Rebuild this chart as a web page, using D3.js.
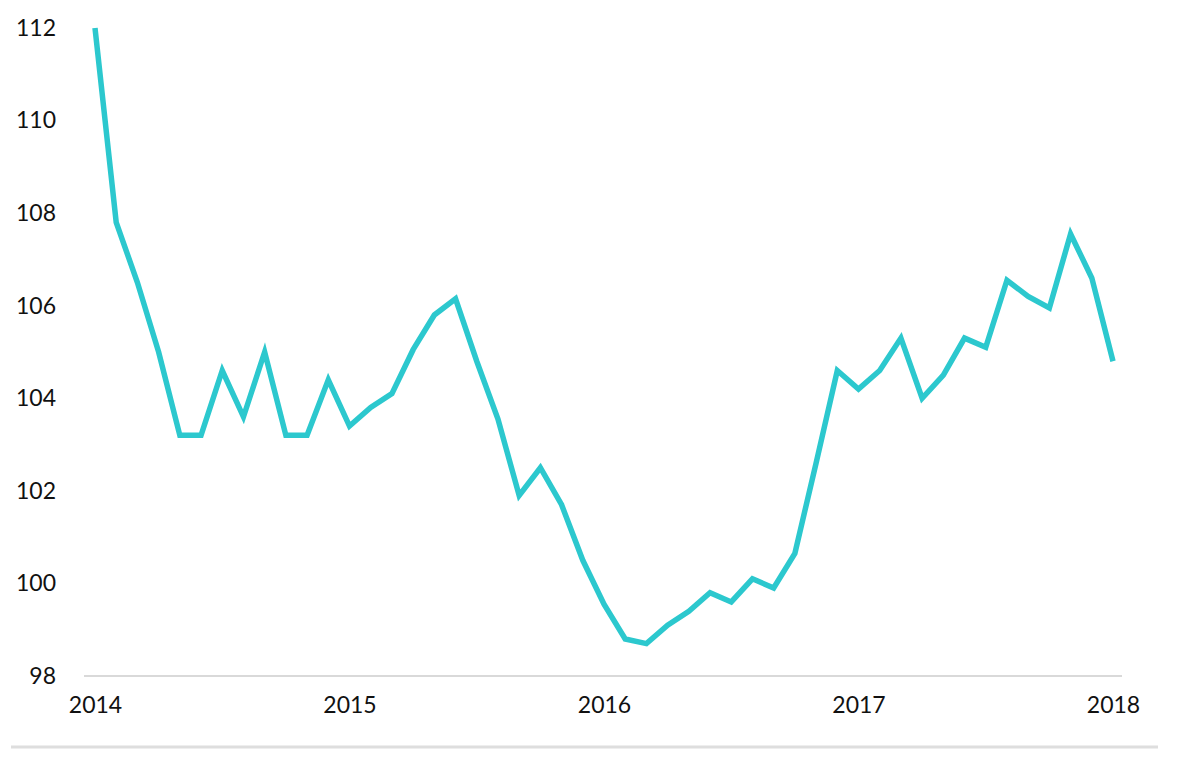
<!DOCTYPE html>
<html>
<head>
<meta charset="utf-8">
<script src="https://cdn.jsdelivr.net/npm/d3@7"></script>
<style>
  html, body { margin: 0; padding: 0; background: #ffffff; }
  svg { display: block; }
  text { font-family: Lato, "Open Sans", sans-serif; fill: #111111; }
</style>
</head>
<body>
<svg id="chart" width="1200" height="758"></svg>
<script>
// Monthly index values, Jan 2014 .. Jan 2018
const values = [
  112.0, 107.8, 106.5, 105.0, 103.2, 103.2, 104.6, 103.6, 105.0, 103.2, 103.2, 104.4,
  103.4, 103.8, 104.1, 105.05, 105.8, 106.15, 104.8, 103.55, 101.9, 102.5, 101.7, 100.5,
  99.55, 98.8, 98.7, 99.1, 99.4, 99.8, 99.6, 100.1, 99.9, 100.65, 102.6, 104.6,
  104.2, 104.6, 105.3, 104.0, 104.5, 105.3, 105.1, 106.55, 106.2, 105.95, 107.55, 106.6,
  104.8
];
const yearLabels = ["2014", "2015", "2016", "2017", "2018"];
const yTicks = [98, 100, 102, 104, 106, 108, 110, 112];

const svg = d3.select("#chart");

const x = d3.scaleLinear().domain([0, values.length - 1]).range([95, 1113]);
const y = d3.scaleLinear().domain([98, 112]).range([676, 28]);

// baseline axis line
svg.append("line")
  .attr("x1", 84).attr("x2", 1122)
  .attr("y1", y(98)).attr("y2", y(98))
  .attr("stroke", "#d9d9d9").attr("stroke-width", 2);

// bottom frame line
svg.append("line")
  .attr("x1", 11).attr("x2", 1158)
  .attr("y1", 747).attr("y2", 747)
  .attr("stroke", "#dedede").attr("stroke-width", 3);

// y axis labels
const yAxis = d3.axisLeft(y).tickValues(yTicks).tickSize(0).tickPadding(0).tickFormat(d3.format("d"));
const gy = svg.append("g").attr("transform", "translate(56,0)").call(yAxis);
gy.select(".domain").remove();
gy.selectAll("text").attr("font-size", 23).attr("font-family", "Lato, 'Open Sans', sans-serif").attr("fill", "#111111");

// x axis labels
const xAxis = d3.axisBottom(x)
  .tickValues(yearLabels.map((d, i) => i * 12))
  .tickSize(0).tickPadding(0)
  .tickFormat((d, i) => yearLabels[i]);
const gx = svg.append("g").attr("transform", "translate(0,697)").call(xAxis);
gx.select(".domain").remove();
gx.selectAll("text").attr("font-size", 23).attr("font-family", "Lato, 'Open Sans', sans-serif").attr("fill", "#111111");

// line
const line = d3.line().x((d, i) => x(i)).y(d => y(d));
svg.append("path")
  .datum(values)
  .attr("d", line)
  .attr("fill", "none")
  .attr("stroke", "#2cc8ce")
  .attr("stroke-width", 5.5)
  .attr("stroke-linejoin", "miter")
  .attr("stroke-linecap", "butt");
</script>
</body>
</html>
